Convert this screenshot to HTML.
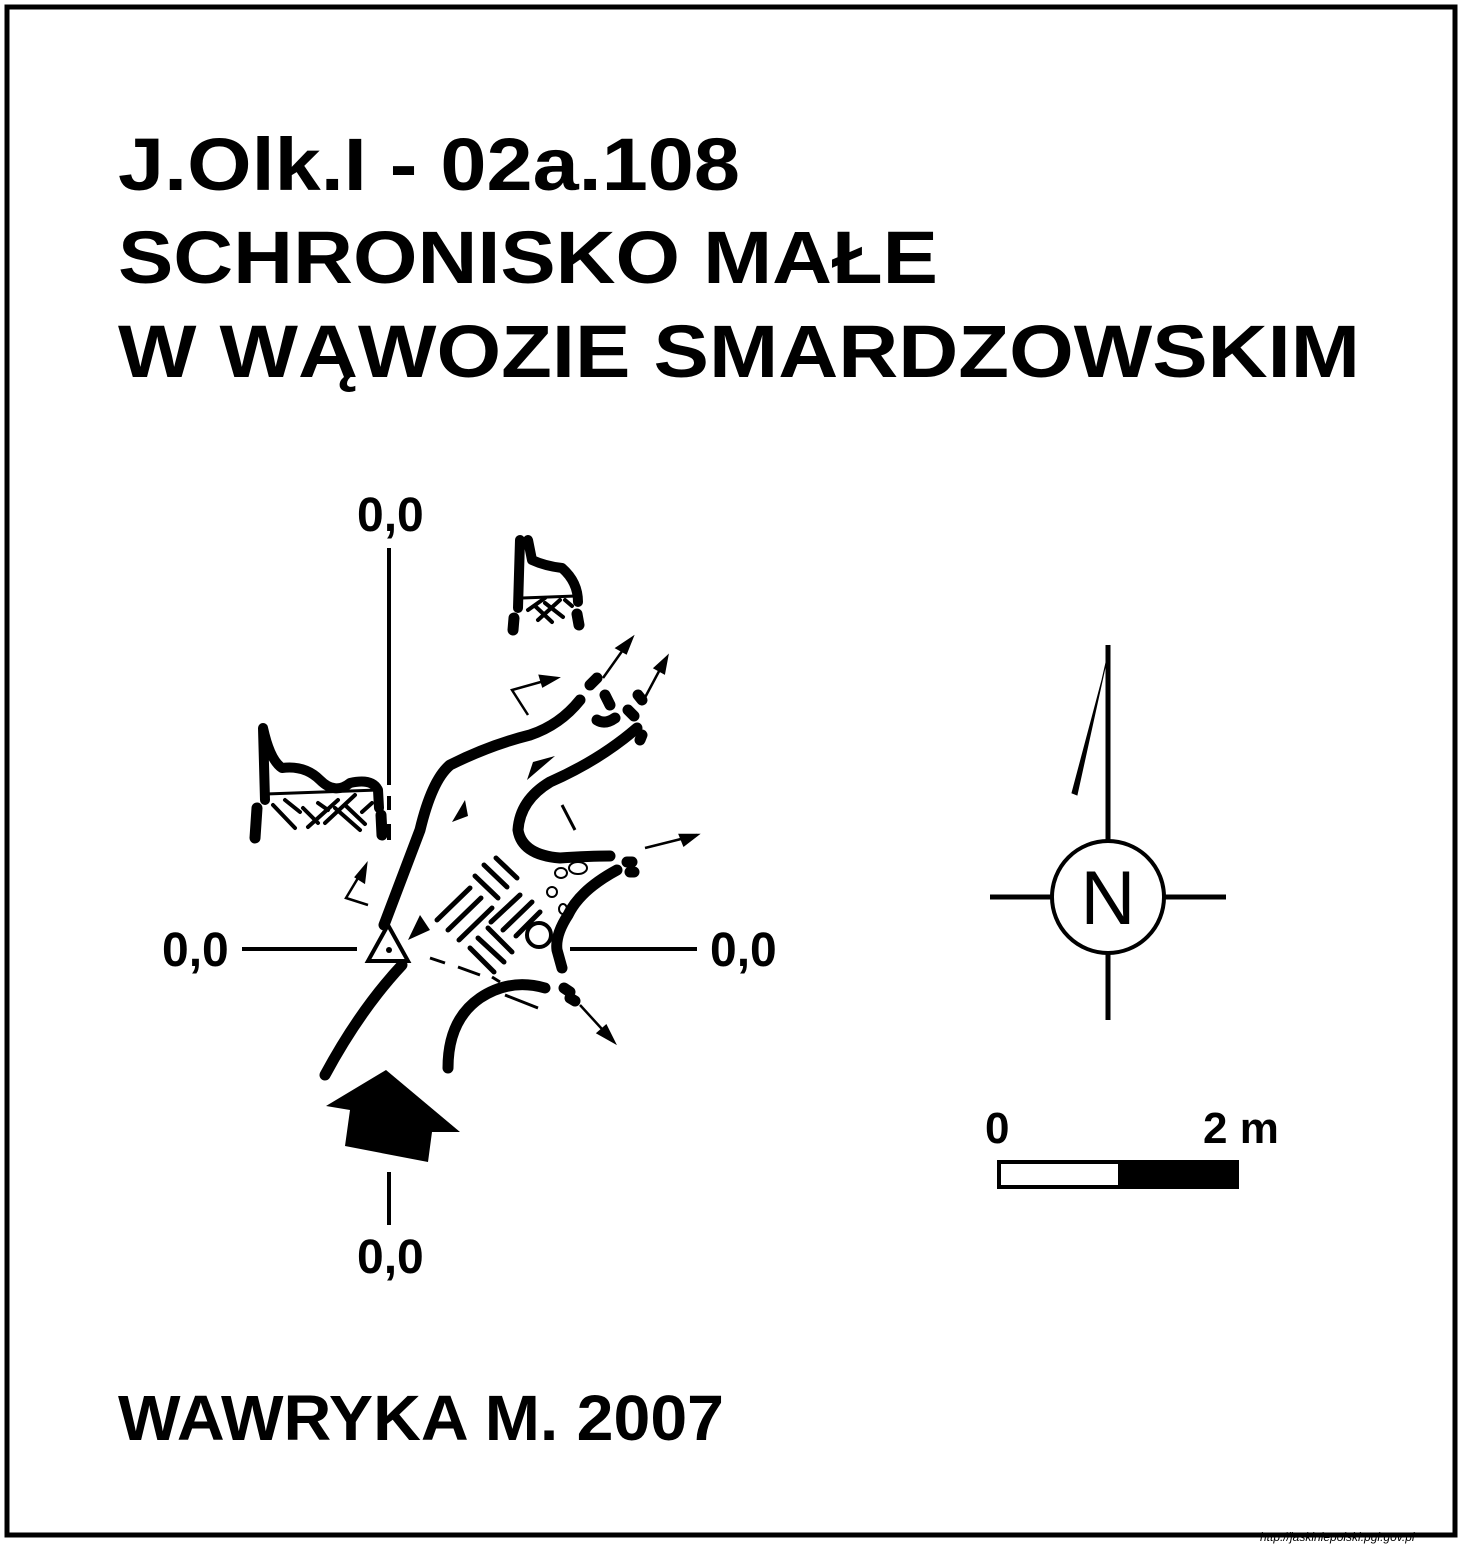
<!DOCTYPE html>
<html><head><meta charset="utf-8"><style>
html,body{margin:0;padding:0;background:#fff}
svg{display:block}
text{font-family:"Liberation Sans",Arial,sans-serif;font-weight:bold;fill:#000}
</style></head><body>
<svg width="1464" height="1544" viewBox="0 0 1464 1544">
<rect x="7" y="7" width="1448" height="1528" fill="#fff" stroke="#000" stroke-width="5"/>
<g>
<text x="118" y="190" font-size="74" textLength="622" lengthAdjust="spacingAndGlyphs">J.Olk.I - 02a.108</text>
<text x="118" y="283" font-size="74" textLength="820" lengthAdjust="spacingAndGlyphs">SCHRONISKO MAŁE</text>
<text x="118" y="377" font-size="74" textLength="1242" lengthAdjust="spacingAndGlyphs">W WĄWOZIE SMARDZOWSKIM</text>
</g>
<text x="118" y="1440" font-size="64" textLength="606" lengthAdjust="spacingAndGlyphs">WAWRYKA M. 2007</text>
<text x="1260" y="1541" font-size="12" font-style="italic" style="font-weight:normal">http://jaskiniepolski.pgi.gov.pl</text>

<g stroke="#000" stroke-width="4" fill="none">
<line x1="389" y1="548" x2="389" y2="785"/>
<line x1="389" y1="796" x2="389" y2="810"/>
<line x1="389" y1="824" x2="389" y2="840"/>
<line x1="389" y1="1172" x2="389" y2="1225"/>
<line x1="242" y1="949" x2="357" y2="949"/>
<line x1="570" y1="949" x2="697" y2="949"/>
</g>
<g font-size="48">
<text x="357" y="531">0,0</text>
<text x="162" y="966">0,0</text>
<text x="710" y="966">0,0</text>
<text x="357" y="1273">0,0</text>
</g>

<g stroke="#000" stroke-width="11" fill="none" stroke-linecap="round" stroke-linejoin="round">
<path d="M325,1075 Q360,1010 402,965"/>
<path d="M384,925 Q405,870 420,830 Q432,780 450,765 Q490,745 530,735 Q560,725 580,700"/>
<path d="M637,728 Q600,760 550,782 Q520,800 518,830 Q522,855 560,858 Q590,856 610,856"/>
<path d="M617,870 Q580,890 568,915 Q555,935 557,950 L562,968"/>
<path d="M448,1068 Q448,1020 480,998 Q510,978 545,988"/>
<path d="M590,685 L597,678 M605,695 L610,705 M597,720 Q605,725 615,718 M628,710 L634,716 M638,695 L642,700 M640,740 L642,735"/>
<path d="M627,862 L632,862 M630,872 L634,872 M564,988 L570,992 M570,998 L575,1001"/>
</g>
<circle cx="539" cy="935" r="12" fill="#fff" stroke="#000" stroke-width="4"/>
<g fill="none" stroke="#000" stroke-width="2">
<ellipse cx="561" cy="873" rx="6" ry="5"/><ellipse cx="578" cy="868" rx="9" ry="6"/>
<ellipse cx="552" cy="892" rx="5" ry="5"/><ellipse cx="563" cy="909" rx="4" ry="5"/>
</g>
<g stroke="#000" stroke-width="5" stroke-linecap="round">
<line x1="484" y1="865" x2="507" y2="887"/><line x1="475" y1="876" x2="498" y2="898"/><line x1="496" y1="858" x2="517" y2="878"/>
<line x1="437" y1="920" x2="470" y2="888"/><line x1="448" y1="930" x2="481" y2="898"/><line x1="459" y1="940" x2="492" y2="908"/>
<line x1="503" y1="930" x2="532" y2="902"/><line x1="516" y1="936" x2="540" y2="912"/><line x1="491" y1="922" x2="520" y2="895"/>
<line x1="470" y1="948" x2="494" y2="972"/><line x1="478" y1="938" x2="504" y2="962"/><line x1="488" y1="928" x2="512" y2="952"/>
</g>
<g stroke="#000" stroke-width="3" fill="none">
<path d="M430,958 L445,963 M458,967 L480,975 M492,977 L500,982"/>
<line x1="505" y1="995" x2="538" y2="1008"/>
<line x1="562" y1="805" x2="575" y2="830"/>
</g>
<g fill="#000">
<polygon points="527,780 555,756 533,762"/>
<polygon points="452,822 465,800 468,816"/>
<polygon points="408,940 420,915 430,930"/>
</g>
<polygon points="388,925 368,961 408,961" fill="#fff" stroke="#000" stroke-width="4"/>
<circle cx="389" cy="950" r="3" fill="#000"/>
<g stroke="#000" stroke-width="2.5" fill="#000">
<path d="M645,848 L697,835" /><polygon points="697,835 680,835 684,845"/>
<path d="M603,678 L630,640"/><polygon points="632,638 617,648 626,653"/>
<path d="M641,705 L665,660"/><polygon points="667,657 655,668 664,673"/>
<path d="M580,1005 L612,1040" fill="none"/><polygon points="614,1042 598,1033 606,1026"/>
<path d="M528,715 L512,690 L555,678" fill="none"/><polygon points="557,678 540,676 543,686"/>
<path d="M368,905 L346,898 L364,868" fill="none"/><polygon points="366,865 356,877 364,882"/>
</g>
<polygon points="326,1106 386,1070 460,1132 432,1132 428,1162 345,1146 350,1110" fill="#000"/>

<g stroke="#000" fill="none" stroke-linecap="round" stroke-linejoin="round">
<path d="M265,800 L263,728 Q270,760 282,768 Q305,765 320,780 Q335,795 350,783 Q372,778 378,790 L379,808" stroke-width="10"/>
<line x1="266" y1="794" x2="378" y2="790" stroke-width="3"/>
<path d="M257,808 L255,838 M381,815 L382,835" stroke-width="11"/>
<path d="M273,805 L295,828 M285,800 L300,812 M303,808 L318,823 M308,827 L338,800 M325,823 L355,795 M318,803 L328,810 M335,808 L360,830 M345,805 L365,824 M362,812 L372,803" stroke-width="4"/>
</g>
<g stroke="#000" fill="none" stroke-linecap="round" stroke-linejoin="round">
<path d="M518,608 L520,540 M528,540 L532,560 Q545,566 562,568 Q578,582 578,602" stroke-width="10"/>
<line x1="522" y1="598" x2="576" y2="596" stroke-width="3"/>
<path d="M514,618 L513,630 M577,614 L579,625" stroke-width="11"/>
<path d="M528,610 L545,598 M538,620 L560,600 M535,606 L552,622 M545,603 L563,617 M565,600 L572,606" stroke-width="4"/>
</g>

<g stroke="#000" stroke-width="5" fill="none">
<circle cx="1108" cy="897" r="56" stroke-width="4"/>
<line x1="990" y1="897" x2="1051" y2="897"/>
<line x1="1165" y1="897" x2="1226" y2="897"/>
<line x1="1108" y1="645" x2="1108" y2="840"/>
<line x1="1108" y1="954" x2="1108" y2="1020"/>
<polygon points="1110,645 1077,795 1072,793 1102,680" fill="#000" stroke-width="1"/>
</g>
<text x="1108" y="924" font-size="76" text-anchor="middle" style="font-weight:normal">N</text>

<g>
<rect x="999" y="1162" width="238" height="25" fill="#fff" stroke="#000" stroke-width="4"/>
<rect x="1118" y="1162" width="119" height="25" fill="#000"/>
<text x="985" y="1143" font-size="44">0</text>
<text x="1203" y="1143" font-size="44">2 m</text>
</g>
</svg>
</body></html>
